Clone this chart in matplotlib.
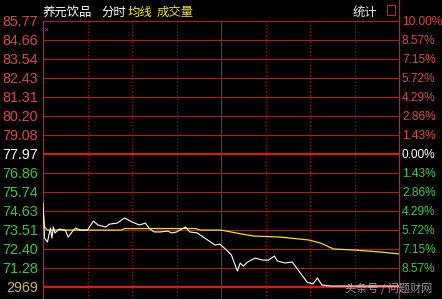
import matplotlib
matplotlib.use("Agg")
import matplotlib.pyplot as plt
import matplotlib.transforms as mtransforms
from matplotlib.patches import Rectangle
import numpy as np

plt.rcParams['font.family'] = ['Liberation Sans', 'Noto Sans CJK SC', 'DejaVu Sans']

# intraday data (minutes since open, 240 minutes in the session)
prev_close = 77.97
price_minutes = [0, 1, 3, 5, 6, 7, 8, 11, 15, 17, 20, 22, 25, 30, 34, 37, 42, 45, 50, 55,
                 60, 65, 69, 72, 75, 79, 84, 87, 90, 96, 99, 104, 108, 113, 116, 119, 123, 127, 131, 133,
                 135, 138, 143, 148, 152, 156, 158, 163, 168, 172, 178, 182, 185, 188, 194, 240]
price_values = [75.10, 73.04, 72.81, 73.63, 73.04, 73.69, 73.34, 73.57, 73.51, 73.10,
                73.45, 73.63, 73.51, 73.51, 74.04, 73.81, 73.69, 73.86, 73.92, 74.22,
                73.98, 73.81, 73.92, 73.57, 73.40, 73.40, 73.45, 73.34, 73.40, 73.69,
                73.40, 73.34, 73.10, 72.81, 72.63, 72.69, 72.40, 72.05, 71.11, 71.58,
                71.40, 71.64, 71.87, 71.75, 71.75, 71.99, 71.70, 71.58, 71.64, 71.17,
                70.46, 70.35, 70.70, 70.29, 70.23, 70.23]
avg_minutes = [0, 1, 3, 53, 55, 103, 106, 120, 134, 142, 160, 179, 187, 196, 210, 228, 240]
avg_values = [74.80, 73.69, 73.51, 73.51, 73.60, 73.60, 73.51, 73.51, 73.28, 73.16,
              73.10, 72.93, 72.75, 72.40, 72.34, 72.22, 72.11]

left_labels = ["85.77", "84.66", "83.54", "82.43", "81.31", "80.20", "79.08", "77.97",
               "76.86", "75.74", "74.63", "73.51", "72.40", "71.28", "2969"]
right_labels = ["10.00%", "8.57%", "7.15%", "5.72%", "4.29%", "2.86%", "1.43%", "0.00%",
                "1.43%", "2.86%", "4.29%", "5.72%", "7.15%", "8.57%", ""]

W, H = 442, 299
RED = '#b41a1a'
RED_BRIGHT = '#d41c1c'
UP = '#e04444'
DOWN = '#3cc83c'


def fx(px):
    return px / W


def fy(py):
    return 1 - py / H


fig = plt.figure(figsize=(W / 100, H / 100), dpi=100, facecolor='black')
ax = fig.add_axes([fx(43), 0, fx(399) - fx(43), fy(21)])
ax.set_facecolor('black')

pcts = np.linspace(10, -10, 15)
levels = prev_close * (1 + pcts / 100)
px_per_price = (levels[0] - levels[-1]) / 266.0
ax.set_ylim(levels[0] - 278 * px_per_price, levels[0])
ax.set_xlim(0, 240)

for i, lv in enumerate(levels):
    thick = i in (7, 14)
    ax.axhline(lv, color=RED_BRIGHT if thick else RED, lw=1.6 if thick else 0.8, zorder=1)

for m in [30, 60, 90, 150, 180, 210]:
    ax.axvline(m, color='#a01818', lw=0.8, ls=(0, (1, 2)), zorder=1)
ax.axvline(120, color=RED, lw=0.8, zorder=1)

ax.plot(avg_minutes, avg_values, color='#f0e020', lw=0.9, zorder=3)
ax.plot(price_minutes, price_values, color='white', lw=0.8, zorder=4)

for side in ['top', 'bottom']:
    ax.spines[side].set_visible(False)
for side in ['left', 'right']:
    ax.spines[side].set_color(RED_BRIGHT)
    ax.spines[side].set_linewidth(0.9)
ax.set_xticks([])
ax.set_yticks([])

trans = mtransforms.blended_transform_factory(ax.transAxes, ax.transData)
for i, lv in enumerate(levels):
    if i < 7:
        c = UP
    elif i == 7:
        c = 'white'
    else:
        c = DOWN
    lc = '#c8b850' if i == 14 else c
    ax.text(-5 / 356, lv - 0.03, left_labels[i], transform=trans, ha='right', va='center',
            fontsize=10.3, color=lc, clip_on=False)
    if right_labels[i]:
        ax.text(1 + 3 / 356, lv - 0.03, right_labels[i], transform=trans, ha='left', va='center',
                fontsize=8.6, color=c, clip_on=False)

# header
cjk = ['Noto Sans CJK SC', 'DejaVu Sans']
fig.text(fx(43), fy(12), "养元饮品", family=cjk, fontsize=8.9, color='white', va='center')
fig.text(fx(101), fy(12), "分时", family=cjk, fontsize=8.9, color='white', va='center')
fig.text(fx(128), fy(12), "均线", family=cjk, fontsize=8.9, color='#f8f020', va='center')
fig.text(fx(157), fy(12), "成交量", family=cjk, fontsize=8.9, color='#e0d840', va='center')
fig.text(fx(353), fy(12), "统计", family=cjk, fontsize=8.9, color='#e8e8e8', va='center')
fig.patches.append(Rectangle((fx(387), fy(15)), fx(8), 10 / H, transform=fig.transFigure,
                             fill=False, edgecolor=RED_BRIGHT, lw=0.8))
fig.lines.append(plt.Line2D([fx(399), fx(399)], [fy(21), 1], transform=fig.transFigure,
                            color=RED_BRIGHT, lw=0.9))
fig.text(fx(46), fy(30), "×", fontsize=6, color='#d040d0', ha='center', va='center')

fig.text(fx(345), fy(288), "头条号 / 问题财网", family=cjk, fontsize=8, color='#c8c8c8',
         alpha=0.75, va='center')

fig.savefig("out.png", dpi=100, facecolor='black')
